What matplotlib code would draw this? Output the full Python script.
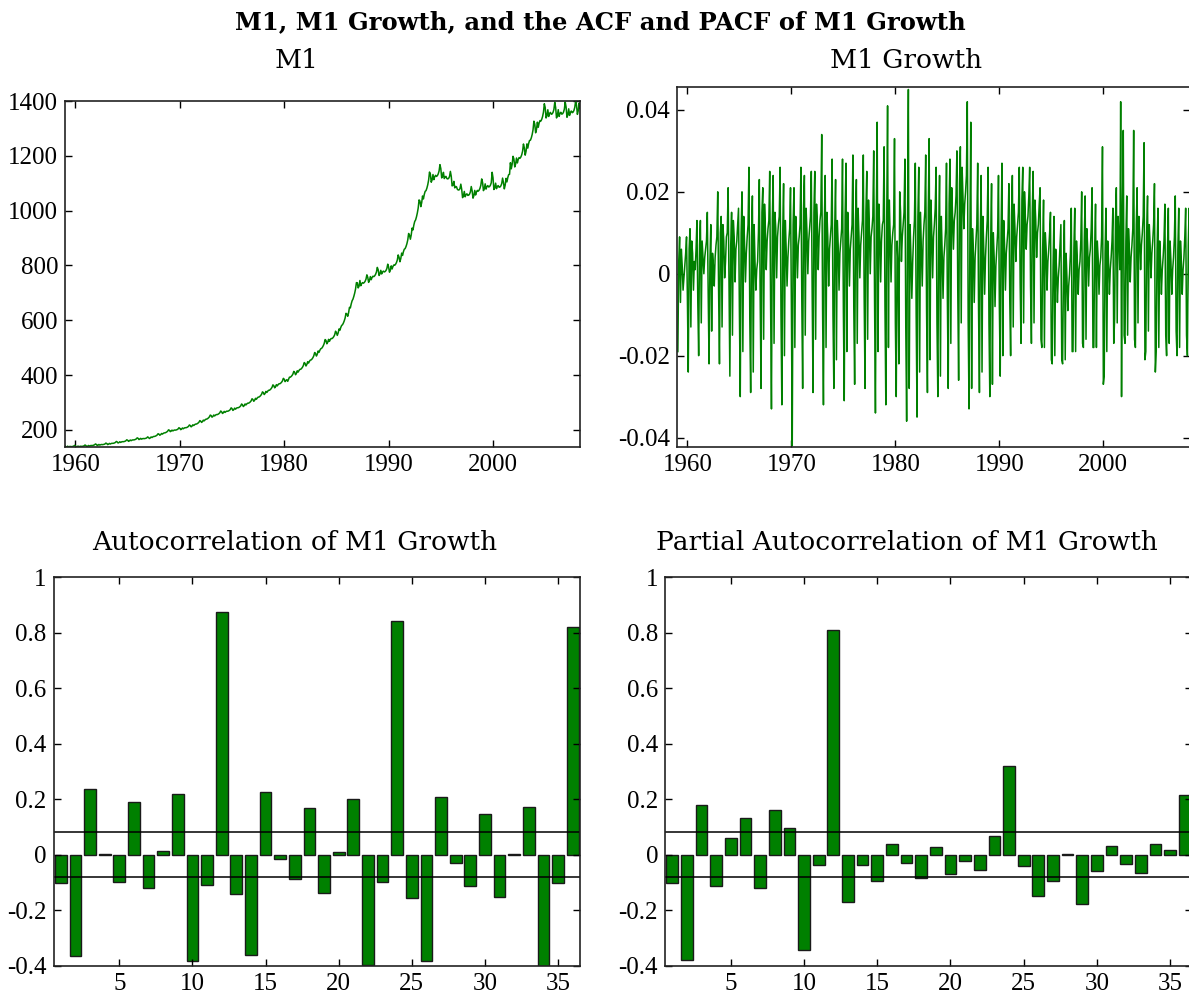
import numpy as np
import matplotlib
matplotlib.use("Agg")
import matplotlib.pyplot as plt
from matplotlib.ticker import FuncFormatter

# ---------------- data ----------------
# M1 level, monthly, Jan 1959 - May 2008 (billions of dollars)
m1_level = [
    141.2, 137.3, 138.1, 140.3, 137.8, 138.9, 139.4, 138.7, 138.8, 139.4, 140.5, 143.1,
    141.2, 137.4, 138.4, 140.7, 138.3, 139.5, 140.1, 139.6, 139.8, 140.5, 141.7, 144.6,
    142.7, 139.1, 140.3, 142.9, 140.6, 142.1, 142.9, 142.5, 142.9, 143.9, 145.3, 148.4,
    146.7, 142.9, 144.0, 146.6, 144.2, 145.7, 146.4, 145.9, 146.3, 147.1, 148.5, 151.6,
    149.8, 146.1, 147.5, 150.4, 148.2, 149.9, 150.8, 150.6, 151.2, 152.3, 154.1, 157.5,
    155.8, 152.0, 153.5, 156.4, 154.1, 155.9, 156.8, 156.6, 157.2, 158.3, 160.1, 163.6,
    161.9, 158.0, 159.6, 162.7, 160.4, 162.3, 163.3, 163.1, 163.8, 165.1, 167.0, 170.7,
    169.0, 164.6, 165.8, 168.8, 166.0, 167.6, 168.3, 167.7, 168.2, 169.1, 170.7, 174.2,
    172.0, 168.3, 170.3, 174.0, 171.9, 174.3, 175.8, 175.9, 177.1, 178.8, 181.3, 185.7,
    184.2, 180.2, 182.5, 186.6, 184.4, 187.1, 188.8, 189.0, 190.4, 192.3, 195.0, 199.9,
    198.4, 193.4, 195.2, 198.9, 196.0, 198.1, 199.3, 198.9, 199.7, 201.0, 203.2, 207.7,
    205.4, 200.6, 202.6, 206.7, 203.9, 206.3, 207.8, 207.6, 208.6, 210.3, 212.8, 217.7,
    215.6, 210.9, 213.5, 218.3, 215.7, 218.8, 220.8, 221.0, 222.5, 224.8, 227.9, 233.6,
    231.7, 227.0, 230.0, 235.4, 232.8, 236.4, 238.8, 239.2, 241.1, 243.8, 247.4, 253.8,
    252.0, 246.2, 248.8, 254.0, 250.6, 253.8, 255.7, 255.6, 257.0, 259.2, 262.5, 268.6,
    266.2, 259.7, 262.2, 267.3, 263.5, 266.5, 268.2, 267.8, 269.0, 271.0, 274.1, 280.2,
    277.3, 270.8, 273.6, 279.2, 275.3, 278.7, 280.7, 280.5, 281.9, 284.2, 287.7, 294.3,
    291.5, 284.9, 288.3, 294.5, 290.8, 294.7, 297.2, 297.3, 299.2, 302.0, 306.0, 313.4,
    310.7, 304.1, 308.1, 315.1, 311.5, 316.2, 319.2, 319.7, 322.0, 325.4, 330.1, 338.5,
    336.0, 328.7, 332.8, 340.3, 336.2, 341.0, 344.2, 344.5, 346.9, 350.4, 355.3, 364.1,
    361.3, 353.2, 357.2, 364.9, 360.3, 365.1, 368.1, 368.2, 370.5, 373.9, 378.8, 387.9,
    384.6, 376.0, 380.3, 383.0, 377.0, 385.0, 392.1, 392.2, 394.7, 398.4, 403.6, 413.4,
    409.9, 401.1, 406.2, 415.5, 410.7, 416.7, 420.6, 421.1, 424.2, 428.6, 434.7, 445.6,
    442.2, 433.0, 438.6, 448.7, 443.6, 450.2, 454.5, 455.3, 458.7, 463.5, 470.3, 482.2,
    478.7, 469.3, 476.0, 487.7, 482.8, 490.6, 496.0, 497.4, 501.8, 507.7, 515.7, 529.5,
    526.2, 514.0, 519.4, 530.2, 523.0, 529.5, 533.5, 533.1, 536.0, 540.5, 547.1, 559.9,
    554.6, 544.7, 553.6, 568.1, 563.5, 573.6, 580.9, 583.6, 589.7, 597.7, 608.1, 625.3,
    622.4, 614.4, 627.5, 647.1, 644.8, 659.4, 670.8, 676.8, 686.9, 699.0, 714.1, 737.3,
    736.7, 718.0, 724.0, 745.0, 725.9, 733.4, 737.3, 735.2, 737.6, 742.3, 749.9, 765.7,
    757.0, 738.2, 745.0, 759.3, 747.9, 756.2, 760.7, 759.2, 762.2, 767.5, 775.9, 792.8,
    784.3, 763.4, 768.9, 782.2, 769.0, 776.1, 779.2, 776.2, 777.8, 781.7, 788.8, 804.6,
    794.4, 775.3, 782.9, 798.5, 787.1, 796.4, 801.7, 800.6, 804.3, 810.4, 819.9, 838.3,
    829.8, 813.4, 825.0, 845.0, 836.5, 849.9, 859.1, 861.5, 869.0, 879.1, 892.9, 916.6,
    910.8, 895.7, 911.3, 936.3, 929.7, 947.4, 960.5, 965.9, 977.1, 991.3, 1009.5, 1039.1,
    1035.3, 1014.6, 1028.8, 1053.5, 1042.7, 1059.2, 1070.4, 1073.1, 1082.2, 1094.7, 1111.6, 1140.8,
    1133.4, 1103.7, 1112.1, 1131.8, 1113.1, 1123.8, 1128.9, 1124.9, 1127.7, 1133.9, 1144.6, 1167.9,
    1153.7, 1119.5, 1124.0, 1139.8, 1117.1, 1123.8, 1124.9, 1116.9, 1115.7, 1117.9, 1124.5, 1143.3,
    1125.3, 1090.4, 1093.1, 1106.9, 1083.2, 1088.1, 1087.4, 1078.1, 1075.3, 1075.7, 1080.3, 1096.7,
    1077.8, 1047.5, 1053.5, 1070.1, 1050.6, 1058.7, 1061.4, 1055.7, 1056.4, 1060.2, 1068.3, 1088.0,
    1072.7, 1045.5, 1054.4, 1073.9, 1057.2, 1068.2, 1073.9, 1071.0, 1074.6, 1081.4, 1092.6, 1115.8,
    1103.1, 1073.0, 1079.9, 1097.8, 1078.6, 1087.7, 1091.4, 1086.4, 1087.9, 1092.7, 1101.8, 1140.0,
    1120.0, 1077.1, 1083.2, 1100.3, 1080.2, 1088.5, 1091.4, 1085.5, 1086.2, 1090.2, 1098.5, 1118.8,
    1103.1, 1079.5, 1093.1, 1117.9, 1104.9, 1120.9, 1131.4, 1132.7, 1175.0, 1152.6, 1168.9, 1198.3,
    1189.1, 1159.5, 1169.9, 1192.1, 1174.1, 1186.9, 1193.8, 1191.1, 1195.7, 1203.8, 1216.8, 1243.2,
    1229.6, 1202.5, 1216.9, 1243.7, 1228.4, 1245.4, 1256.2, 1257.0, 1265.3, 1277.5, 1294.8, 1326.5,
    1315.6, 1284.1, 1296.9, 1322.9, 1304.2, 1319.7, 1328.7, 1327.0, 1333.3, 1343.7, 1359.5, 1390.2,
    1376.3, 1338.2, 1346.4, 1368.2, 1343.7, 1354.6, 1358.6, 1351.8, 1353.2, 1358.6, 1369.5, 1395.4,
    1376.3, 1338.4, 1346.6, 1368.5, 1344.0, 1355.0, 1359.0, 1352.3, 1353.7, 1359.2, 1370.3, 1396.3,
    1378.3, 1340.7, 1349.3, 1371.6, 1347.6, 1358.8, 1363.6, 1357.5, 1359.4, 1365.5, 1377.1, 1400.2,
    1384.4, 1351.4, 1365.0, 1392.5, 1372.9,
]

# M1 growth, monthly, Feb 1959 - May 2008 (values in thousandths)
m1_growth_permil = [
    -19, 3, 9, -7, 6, 2, -4, -1, 2, 5, 9,
    -6, -24, 6, 11, -13, 8, 5, -4, 3, 1, 6, 13,
    -7, -20, 7, 13, -12, 8, 4, 0, 4, 6, 8, 15,
    -5, -22, 3, 12, -14, 5, 2, -3, 4, 7, 9, 20,
    -4, -22, 10, 14, -13, 12, 8, -1, 3, 9, 10, 21,
    -3, -25, 7, 15, -15, 13, 9, -2, 6, 8, 12, 16,
    -9, -30, 10, 20, -19, 14, 7, -2, 5, 9, 12, 26,
    -11, -29, 9, 19, -24, 12, 3, -4, 1, 3, 10, 23,
    -6, -28, 15, 21, -16, 17, 11, 1, 8, 11, 13, 25,
    -7, -33, 13, 24, -17, 15, 11, -1, 9, 12, 14, 26,
    -10, -32, 10, 22, -20, 13, 6, -3, 4, 8, 11, 21,
    -8, -42, 12, 21, -18, 14, 8, -1, 7, 9, 12, 26,
    -6, -28, 16, 24, -15, 16, 10, 0, 8, 11, 14, 25,
    -5, -29, 15, 25, -16, 17, 12, 1, 9, 13, 15, 34,
    -9, -32, 12, 24, -18, 15, 9, -3, 6, 9, 12, 28,
    -10, -28, 11, 23, -21, 13, 7, -4, 5, 8, 11, 28,
    -9, -31, 14, 27, -19, 15, 8, -3, 6, 9, 12, 29,
    -8, -27, 13, 23, -17, 16, 9, -1, 7, 10, 13, 29,
    -6, -28, 15, 25, -16, 18, 11, 0, 9, 11, 14, 30,
    -7, -34, 14, 37, -19, 17, 10, -2, 8, 12, 13, 31,
    -8, -32, 13, 41, -18, 18, 9, -2, 7, 10, 12, 33,
    -12, -30, 8, 3, -22, 20, 15, 3, 9, 12, 15, 28,
    -13, -36, 12, 45, -28, 12, 4, -6, 3, 9, 13, 27,
    -10, -35, 14, 26, -24, 15, 6, -3, 8, 12, 15, 29,
    -9, -29, 16, 33, -21, 18, 10, -1, 9, 12, 16, 26,
    -12, -30, 10, 24, -25, 14, 5, -6, 4, 7, 11, 27,
    -6, -28, 17, 28, -17, 21, 14, 6, 13, 15, 19, 30,
    -4, -26, 22, 31, -12, 26, 19, 11, 17, 20, 24, 42,
    -11, -33, 9, 37, -28, 11, 5, -7, 4, 8, 12, 27,
    -9, -29, 10, 24, -24, 14, 6, -5, 4, 9, 13, 26,
    -12, -30, 8, 22, -27, 10, 4, -8, 2, 6, 10, 24,
    -8, -25, 10, 27, -20, 13, 7, -4, 5, 8, 11, 22,
    -6, -20, 14, 24, -13, 17, 11, 3, 9, 12, 15, 26,
    -2, -17, 18, 26, -12, 20, 14, 6, 12, 14, 19, 26,
    -3, -17, 15, 25, -12, 18, 13, 4, 10, 12, 17, 21,
    -16, -18, 6, 18, -18, 10, 6, -4, 3, 6, 10, 15,
    -21, -22, 2, 14, -20, 6, 1, -7, -1, 2, 7, 12,
    -21, -22, 1, 13, -21, 5, -1, -9, -3, 0, 5, 16,
    -19, -19, 6, 16, -19, 8, 3, -5, 1, 3, 8, 20,
    -17, -18, 8, 19, -16, 11, 6, -3, 4, 6, 11, 21,
    -18, -18, 6, 17, -18, 8, 4, -5, 2, 4, 9, 31,
    -27, -25, 5, 16, -19, 8, 3, -5, 1, 4, 8, 16,
    -17, -11, 13, 21, -12, 14, 9, 1, 42, -30, 14, 35,
    -15, -17, 8, 19, -15, 11, 6, -2, 4, 7, 11, 35,
    -16, -18, 12, 21, -12, 14, 9, 1, 7, 10, 14, 32,
    -21, -19, 10, 19, -14, 12, 7, -1, 5, 8, 12, 22,
    -24, -19, 6, 16, -18, 8, 3, -5, 1, 4, 8, 17,
    -15, -20, 6, 16, -17, 8, 3, -5, 1, 4, 9, 19,
    -14, -20, 6, 16, -18, 8, 3, -5, 1, 4, 9, 16,
    -15, -20, 7, 16, -16,
]

start_year = 1959.0

lags = list(range(1, 37))
acf_values = [
    -0.101, -0.365, 0.238, 0.003, -0.096, 0.190, -0.119, 0.014, 0.220, -0.382,
    -0.107, 0.874, -0.141, -0.361, 0.227, -0.014, -0.088, 0.170, -0.137, 0.011,
    0.200, -0.397, -0.097, 0.841, -0.155, -0.383, 0.210, -0.029, -0.113, 0.148,
    -0.151, 0.003, 0.173, -0.410, -0.101, 0.820,
]
pacf_values = [
    -0.101, -0.379, 0.180, -0.112, 0.061, 0.134, -0.118, 0.162, 0.095, -0.343,
    -0.035, 0.811, -0.169, -0.036, -0.093, 0.040, -0.029, -0.083, 0.027, -0.069,
    -0.023, -0.054, 0.068, 0.320, -0.041, -0.149, -0.094, 0.002, -0.176, -0.058,
    0.032, -0.034, -0.066, 0.038, 0.018, 0.216,
]
conf_band = 0.081

titles = ["M1", "M1 Growth", "Autocorrelation of M1 Growth",
          "Partial Autocorrelation of M1 Growth"]
suptitle = "M1, M1 Growth, and the ACF and PACF of M1 Growth"

# ---------------- style ----------------
plt.rcParams["font.family"] = ["DejaVu Serif"]
plt.rcParams["axes.unicode_minus"] = False
GREEN = "#008000"
TICK_FONT = "Liberation Serif"
TICK_FS = 18
TITLE_FS = 19

W, H = 1189, 994
fig = plt.figure(figsize=(W / 100, H / 100), dpi=100)


def rect(x0, x1, top, bottom):
    return [x0 / W, 1 - bottom / H, (x1 - x0) / W, (bottom - top) / H]


ax1 = fig.add_axes(rect(65, 580, 101, 447))
ax2 = fig.add_axes(rect(677, 1190, 87, 447))
ax3 = fig.add_axes(rect(53.5, 580, 577, 966))
ax4 = fig.add_axes(rect(665, 1192, 577, 966))

gfmt = FuncFormatter(lambda v, p: ("%g" % round(v, 6)))

# M1 level
level = np.array(m1_level)
lx = start_year + np.arange(len(level)) / 12.0
ax1.plot(lx, level, color=GREEN, lw=1.1)
ax1.set_xlim(lx[0], lx[-1])
ax1.set_ylim(level.min(), level.max())
ax1.set_xticks([1960, 1970, 1980, 1990, 2000])
ax1.set_yticks(range(200, 1401, 200))

# M1 growth
growth = np.array(m1_growth_permil) / 1000.0
gx = start_year + (np.arange(len(growth)) + 1) / 12.0
ax2.plot(gx, growth, color=GREEN, lw=1.1)
ax2.set_xlim(lx[0], lx[-1])
ax2.set_ylim(growth.min() - 0.0003, growth.max() + 0.0006)
ax2.set_xticks([1960, 1970, 1980, 1990, 2000])
ax2.set_yticks([-0.04, -0.02, 0, 0.02, 0.04])
ax2.yaxis.set_major_formatter(gfmt)

# ACF / PACF
for ax, vals in ((ax3, acf_values), (ax4, pacf_values)):
    ax.bar(lags, vals, width=0.8, color=GREEN, edgecolor="#1a1a1a", linewidth=1.0)
    ax.axhline(conf_band, color="black", lw=1.1)
    ax.axhline(-conf_band, color="black", lw=1.1)
    ax.set_xlim(0.5, 36.5)
    ax.set_ylim(-0.4, 1.0)
    ax.set_xticks([5, 10, 15, 20, 25, 30, 35])
    ax.set_yticks([-0.4, -0.2, 0, 0.2, 0.4, 0.6, 0.8, 1.0])
    ax.yaxis.set_major_formatter(gfmt)

for ax in (ax1, ax2, ax3, ax4):
    ax.tick_params(direction="in", length=5, width=1, top=True, right=True,
                   labelsize=TICK_FS, pad=5, colors="black")
    for lab in ax.get_xticklabels() + ax.get_yticklabels():
        lab.set_fontfamily(TICK_FONT)
    for s in ax.spines.values():
        s.set_linewidth(1.2)
        s.set_color("#222222")

# titles
fig.text(600 / W, 1 - 22 / H, suptitle, ha="center", va="center",
         fontsize=17.5, fontweight="bold")
fig.text(297 / W, 1 - 61 / H, titles[0], ha="center", va="center", fontsize=TITLE_FS)
fig.text(906 / W, 1 - 61 / H, titles[1], ha="center", va="center", fontsize=TITLE_FS)
fig.text(294.5 / W, 1 - 543 / H, titles[2], ha="center", va="center", fontsize=TITLE_FS)
fig.text(906.5 / W, 1 - 543 / H, titles[3], ha="center", va="center", fontsize=TITLE_FS)

fig.savefig("out.png", dpi=100)
